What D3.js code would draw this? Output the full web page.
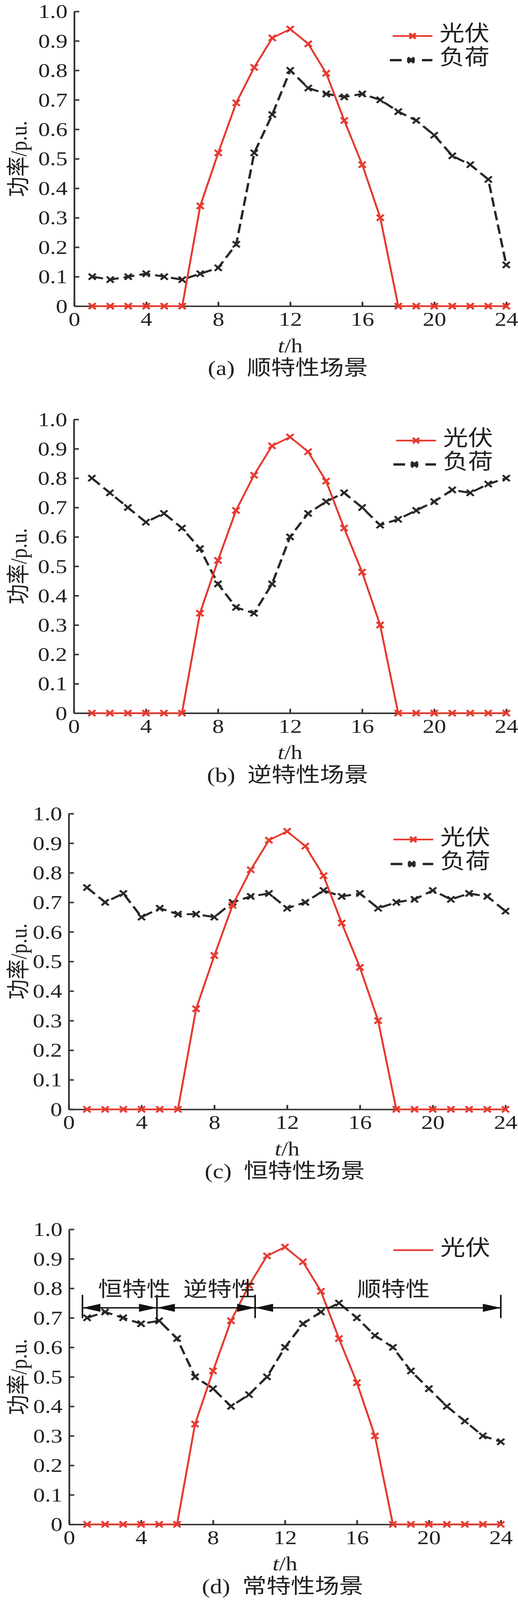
<!DOCTYPE html>
<html>
<head>
<meta charset="utf-8">
<script src="https://cdn.jsdelivr.net/npm/d3@7/dist/d3.min.js"></script>
<style>
  body { margin: 0; background: #fff; overflow: hidden; }
  svg { display: block; }
  svg text { font-family: "Liberation Serif", "Noto Sans CJK SC", serif; fill: #231f20; }
</style>
</head>
<body>
<svg id="chart"></svg>
<script>
"use strict";

// hours 1..24
var hours = d3.range(1, 25);

// PV output, identical in the four scenarios
var pvValues = [0, 0, 0, 0, 0, 0, 0.34, 0.52, 0.69, 0.81, 0.91, 0.94,
                0.89, 0.79, 0.63, 0.48, 0.30, 0, 0, 0, 0, 0, 0, 0];

// load curves, one per scenario
var loadA = [0.10, 0.09, 0.10, 0.11, 0.10, 0.09, 0.11, 0.13, 0.21, 0.52, 0.65, 0.80,
             0.74, 0.72, 0.71, 0.72, 0.70, 0.66, 0.63, 0.58, 0.51, 0.48, 0.43, 0.14];
var loadB = [0.80, 0.75, 0.70, 0.65, 0.68, 0.63, 0.56, 0.44, 0.36, 0.34, 0.44, 0.60,
             0.68, 0.72, 0.75, 0.70, 0.64, 0.66, 0.69, 0.72, 0.76, 0.75, 0.78, 0.80];
var loadC = [0.75, 0.70, 0.73, 0.65, 0.68, 0.66, 0.66, 0.65, 0.70, 0.72, 0.73, 0.68,
             0.70, 0.74, 0.72, 0.73, 0.68, 0.70, 0.71, 0.74, 0.71, 0.73, 0.72, 0.67];
var loadD = [0.70, 0.72, 0.70, 0.68, 0.69, 0.63, 0.50, 0.46, 0.40, 0.44, 0.50, 0.60,
             0.68, 0.72, 0.75, 0.70, 0.64, 0.60, 0.52, 0.46, 0.40, 0.35, 0.30, 0.28];

var xTicks = [0, 4, 8, 12, 16, 20, 24];
var yTicks = [0, 0.1, 0.2, 0.3, 0.4, 0.5, 0.6, 0.7, 0.8, 0.9, 1.0];

var captionTags = ["(a)", "(b)", "(c)", "(d)"];
var captionNames = ["顺特性场景", "逆特性场景", "恒特性场景", "常特性场景"];
var legendNames = ["光伏", "负荷"];

// segment annotation of panel (d), in data units
var segBounds = [0.74, 4.88, 10.34, 24];
var segNames = ["恒特性", "逆特性", "顺特性"];
var segNameX = [3.63, 8.37, 18.03];

var RED = "#e63a2f";
var DARK = "#2b2624";
var AXIS = "#3b3331";

// drawing size of the original figure
var W = 1326, H = 4761;

// where each of the four plots sits on the page
var panels = [
  { load: loadA, left: 190, right: 1296, top: 34,   bottom: 911,  legX: 1005, legY: [107, 179], showLoadLegend: true },
  { load: loadB, left: 189, right: 1296, top: 1248, bottom: 2122, legX: 1014, legY: [1311, 1382], showLoadLegend: true },
  { load: loadC, left: 176, right: 1294, top: 2421, bottom: 3301, legX: 1007, legY: [2498, 2571], showLoadLegend: true },
  { load: loadD, left: 177, right: 1282, top: 3658, bottom: 4536, legX: 1007, legY: [3720], showLoadLegend: false }
];

// the window may be shorter than the figure: stretch the figure to fill it
var viewW = window.innerWidth || W;
var viewH = Math.min(window.innerHeight || H, H);

var svg = d3.select("#chart")
  .attr("width", viewW)
  .attr("height", viewH)
  .attr("viewBox", "0 0 " + W + " " + H)
  .attr("preserveAspectRatio", "none");

var crossPath = function(s) {
  return "M" + (-s) + "," + (-s) + "L" + s + "," + s + "M" + (-s) + "," + s + "L" + s + "," + (-s);
};

var drawSeries = function(g, x, y, values, color, dashed) {
  var line = d3.line()
    .x(function(d, i) { return x(hours[i]); })
    .y(function(d) { return y(d); });

  g.append("path")
    .datum(values)
    .attr("fill", "none")
    .attr("stroke", color)
    .attr("stroke-width", dashed ? 6 : 5)
    .attr("stroke-dasharray", dashed ? "28,13" : null)
    .attr("stroke-linejoin", "round")
    .attr("d", line);

  g.selectAll(null)
    .data(values)
    .enter().append("path")
    .attr("transform", function(d, i) { return "translate(" + x(hours[i]) + "," + y(d) + ")"; })
    .attr("d", crossPath(9))
    .attr("stroke", color)
    .attr("stroke-width", 5.5)
    .attr("fill", "none");
};

panels.forEach(function(p, k) {
  var g = svg.append("g");

  var x = d3.scaleLinear().domain([0, 24]).range([p.left, p.right]);
  var y = d3.scaleLinear().domain([0, 1]).range([p.bottom, p.top]);

  // axes: ticks point inward
  var yAxis = d3.axisLeft(y)
    .tickValues(yTicks)
    .tickSizeInner(-13)
    .tickSizeOuter(0)
    .tickPadding(17)
    .tickFormat(function(d) { return d === 0 ? "0" : d3.format(".1f")(d); });

  var xAxis = d3.axisBottom(x)
    .tickValues(xTicks)
    .tickSizeInner(-13)
    .tickSizeOuter(0)
    .tickPadding(19)
    .tickFormat(d3.format("d"));

  var gy = g.append("g").attr("transform", "translate(" + p.left + ",0)").call(yAxis);
  var gx = g.append("g").attr("transform", "translate(0," + p.bottom + ")").call(xAxis);

  [gx, gy].forEach(function(a) {
    a.select(".domain").attr("stroke", AXIS).attr("stroke-width", 4.5);
    a.selectAll(".tick line").attr("stroke", AXIS).attr("stroke-width", 4.5);
    a.selectAll(".tick text")
      .attr("font-size", 60)
      .attr("font-family", "Liberation Serif")
      .attr("fill", "#231f20");
  });
  gx.selectAll(".tick text").attr("dy", "0.66em");

  drawSeries(g, x, y, p.load, DARK, true);
  drawSeries(g, x, y, pvValues, RED, false);

  // y label
  var cy = (p.top + p.bottom) / 2;
  g.append("text")
    .attr("transform", "translate(68," + cy + ") rotate(-90)")
    .attr("text-anchor", "middle")
    .attr("font-size", 60)
    .text("功率/p.u.");

  // x label
  var cx = (p.left + p.right) / 2;
  var xl = g.append("text")
    .attr("x", cx)
    .attr("y", p.bottom + 137)
    .attr("text-anchor", "middle")
    .attr("font-size", 60);
  xl.append("tspan").attr("font-style", "italic").text("t");
  xl.append("tspan").text("/h");

  // caption
  var cap = g.append("text")
    .attr("x", cx - 6)
    .attr("y", p.bottom + 205)
    .attr("text-anchor", "middle")
    .attr("font-size", 62);
  cap.append("tspan").text(captionTags[k] + "\u2002");
  cap.append("tspan").text(captionNames[k]);

  // legend
  var leg = g.append("g");
  var lx0 = p.legX, lx1 = p.legX + 102;
  leg.append("line")
    .attr("x1", lx0).attr("x2", lx1)
    .attr("y1", p.legY[0]).attr("y2", p.legY[0])
    .attr("stroke", RED).attr("stroke-width", 5);
  if (p.showLoadLegend) {
    leg.append("path")
      .attr("transform", "translate(" + (lx0 + lx1) / 2 + "," + p.legY[0] + ")")
      .attr("d", crossPath(8))
      .attr("stroke", RED).attr("stroke-width", 6);
  }
  leg.append("text")
    .attr("x", lx1 + 18).attr("y", p.legY[0] - 7)
    .attr("dominant-baseline", "central")
    .attr("font-size", 64)
    .text(legendNames[0]);

  if (p.showLoadLegend) {
    // dash - marker - dash, like the printed key
    [[lx0 - 7, lx0 + 23], [lx0 + 37, lx0 + 57], [lx0 + 75, lx1]].forEach(function(s) {
      leg.append("line")
        .attr("x1", s[0]).attr("x2", s[1])
        .attr("y1", p.legY[1]).attr("y2", p.legY[1])
        .attr("stroke", DARK).attr("stroke-width", 7);
    });
    leg.append("path")
      .attr("transform", "translate(" + (lx0 + 47) + "," + p.legY[1] + ")")
      .attr("d", crossPath(8))
      .attr("stroke", DARK).attr("stroke-width", 7);
    leg.append("text")
      .attr("x", lx1 + 18).attr("y", p.legY[1] - 9)
      .attr("dominant-baseline", "central")
      .attr("font-size", 64)
      .text(legendNames[1]);
  }

  // segment arrows on the last plot
  if (k === 3) {
    var ann = g.append("g");
    var ay = y(0.734);
    segBounds.forEach(function(b, j) {
      ann.append("line")
        .attr("x1", x(b)).attr("x2", x(b))
        .attr("y1", y(0.778)).attr("y2", y(j === 1 ? 0.682 : 0.699))
        .attr("stroke", "#111").attr("stroke-width", 4);
    });
    var head = 46, half = 12;
    for (var i = 0; i < segBounds.length - 1; i++) {
      var a = x(segBounds[i]), b = x(segBounds[i + 1]);
      ann.append("line")
        .attr("x1", a).attr("x2", b)
        .attr("y1", ay).attr("y2", ay)
        .attr("stroke", "#111").attr("stroke-width", 4);
      ann.append("path")
        .attr("d", "M" + a + "," + ay + "L" + (a + head) + "," + (ay - half) + "L" + (a + head) + "," + (ay + half) + "Z")
        .attr("fill", "#111");
      ann.append("path")
        .attr("d", "M" + b + "," + ay + "L" + (b - head) + "," + (ay - half) + "L" + (b - head) + "," + (ay + half) + "Z")
        .attr("fill", "#111");
      ann.append("text")
        .attr("x", x(segNameX[i]))
        .attr("y", y(0.796))
        .attr("text-anchor", "middle")
        .attr("dominant-baseline", "central")
        .attr("font-size", 62)
        .text(segNames[i]);
    }
  }
});
</script>
</body>
</html>
